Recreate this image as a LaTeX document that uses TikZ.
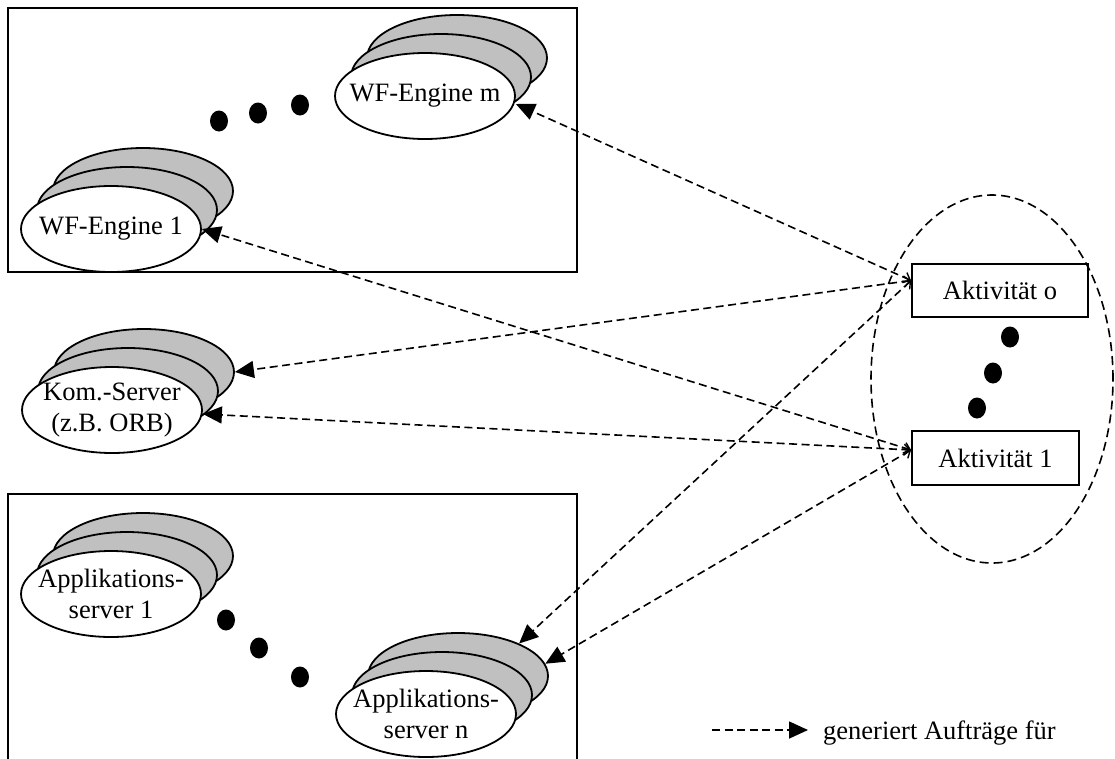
\documentclass[tikz,border=0pt]{standalone}
\usepackage{fontspec}
\setmainfont{Liberation Serif}
\usetikzlibrary{shapes.geometric,arrows.meta}
\definecolor{layergray}{RGB}{192,192,192}
\begin{document}
\begin{tikzpicture}[x=1pt,y=-1pt,
  every node/.style={font=\fontsize{26.5}{31}\selectfont},
  frame/.style={draw,line width=2pt},
  layer/.style={ellipse,draw,line width=1.8pt,fill=layergray,minimum width=180pt,minimum height=86pt,inner sep=0pt},
  front/.style={layer,fill=white},
  label/.style={align=center,inner sep=0pt},
  dot/.style={ellipse,fill=black,minimum width=18pt,minimum height=21pt,inner sep=0pt},
  akt/.style={draw,line width=1.8pt,inner sep=0pt},
  conn/.style={line width=1.6pt,dash pattern=on 8pt off 4.5pt,
    arrows={Straight Barb[length=6pt,width=11pt,line width=1.4pt]-Triangle[length=19pt,width=17pt]}},
  legarrow/.style={line width=1.6pt,dash pattern=on 8pt off 4.5pt,-{Triangle[length=19pt,width=17pt]}}
]
\useasboundingbox (0,0) rectangle (1115,758);

% group frames
\node[frame,minimum width=569pt,minimum height=264pt,inner sep=0pt] (wfbox) at (292.5,140) {};
\draw[line width=2pt] (8,770) -- (8,494) -- (577,494) -- (577,770);

% WF-Engine m
\node[layer] (wfm-3) at (457,58) {};
\node[layer] (wfm-2) at (441,77) {};
\node[front] (wfm) at (425,96) {};
\node[label] (wfm-t) at (wfm) {WF-Engine m};

% WF-Engine 1
\node[layer] (wf1-3) at (143,191) {};
\node[layer] (wf1-2) at (127,210) {};
\node[front] (wf1) at (111,229) {};
\node[label] (wf1-t) at (wf1) {WF-Engine 1};

% dots between the engines
\node[dot] (wfd1) at (219,121) {};
\node[dot] (wfd2) at (258,113) {};
\node[dot] (wfd3) at (300,105) {};

% communication server
\node[layer] (kom-3) at (144,372) {};
\node[layer] (kom-2) at (128,391) {};
\node[front] (kom) at (112,410) {};
\node[label] (kom-t) at (kom) {Kom.-Server\\(z.B. ORB)};

% application servers
\node[layer] (app1-3) at (143,556) {};
\node[layer] (app1-2) at (127,575) {};
\node[front] (app1) at (111,594) {};
\node[label] (app1-t) at (app1) {Applikations-\\server 1};

\node[layer] (appn-3) at (458,676) {};
\node[layer] (appn-2) at (442,695) {};
\node[front] (appn) at (426,714) {};
\node[label] (appn-t) at (appn) {Applikations-\\server n};

\node[dot] (apd1) at (226,620) {};
\node[dot] (apd2) at (259,648) {};
\node[dot] (apd3) at (300,677) {};

% activities
\draw[line width=1.6pt,dash pattern=on 9pt off 5pt] (992,379) ellipse [x radius=121pt,y radius=184pt];
\node[akt,minimum width=176pt,minimum height=53pt] (akto) at (1000,290.5) {Aktivität o};
\node[akt,minimum width=167pt,minimum height=54pt] (akt1) at (995.5,458) {Aktivität 1};
\node[dot] (akd1) at (1010,337) {};
\node[dot] (akd2) at (993,373) {};
\node[dot] (akd3) at (977,408) {};

\coordinate (ao) at ([yshift=10pt]akto.west);
\coordinate (a1) at ([yshift=8pt]akt1.west);

% connectors
\draw[conn] (ao) -- ([yshift=-8pt]wfm.east);
\draw[conn] (ao) -- (kom-3.east);
\draw[conn] (ao) -- (appn-3.28);
\draw[conn] (a1) -- (wf1.east);
\draw[conn] (a1) -- ([yshift=-4pt]kom.east);
\draw[conn] (a1) -- (appn-3.8);

% legend
\node[anchor=west,inner sep=0pt] (legtext) at (823,733) {generiert Aufträge für};
\coordinate (legstart) at (712,730);
\draw[legarrow,shorten >=15pt] (legstart) -- ([yshift=3pt]legtext.west);
\end{tikzpicture}
\end{document}
